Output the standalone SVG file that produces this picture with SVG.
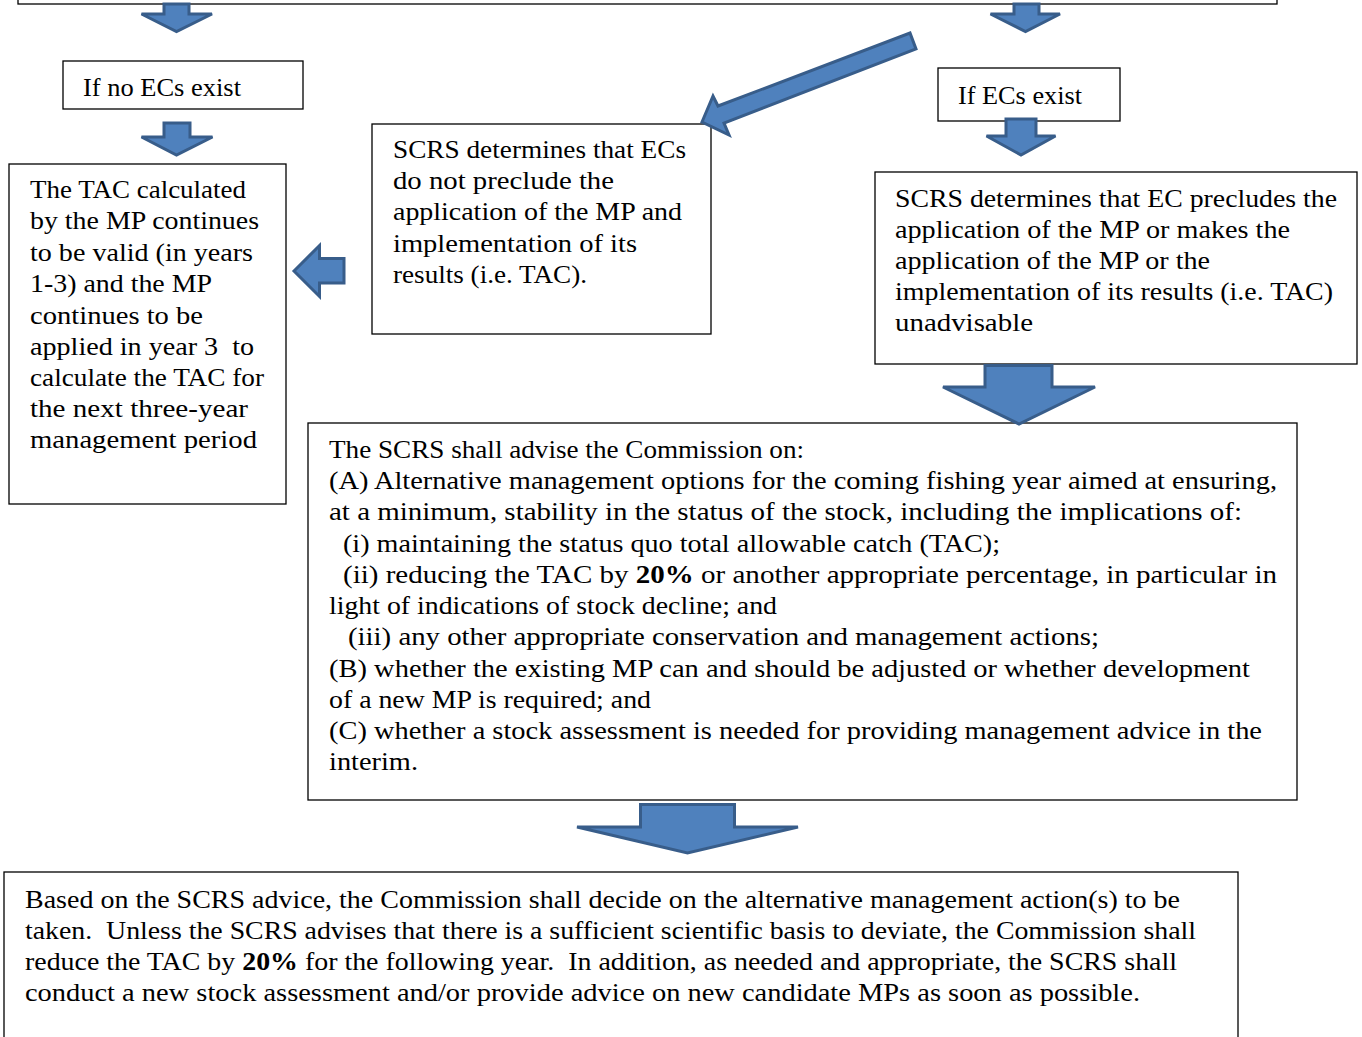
<svg xmlns="http://www.w3.org/2000/svg" width="1362" height="1037" viewBox="0 0 1362 1037">
<style>
.box{fill:#fff;stroke:#000;stroke-width:1.3}
.arr{fill:#4F81BD;stroke:#385D8A;stroke-width:3;stroke-linejoin:miter}
text{font-family:"Liberation Serif","Times New Roman",serif;font-size:25px;fill:#000}
.b{font-weight:bold}
</style>
<rect width="1362" height="1037" fill="#fff"/>
<g id="node-top"><rect class="box" x="18" y="-50" width="1259" height="54"/></g>
<g id="node-no-ecs"><rect class="box" x="63" y="61" width="240" height="48"/>
<text x="83" y="96" textLength="158" lengthAdjust="spacingAndGlyphs">If no ECs exist</text></g>
<g id="node-ecs-exist"><rect class="box" x="938" y="68" width="182" height="53"/>
<text x="958" y="104" textLength="124" lengthAdjust="spacingAndGlyphs">If ECs exist</text></g>
<g id="node-tac-valid"><rect class="box" x="9" y="164" width="277" height="340"/>
<text x="30" y="198" textLength="216" lengthAdjust="spacingAndGlyphs">The TAC calculated</text>
<text x="30" y="229" textLength="229" lengthAdjust="spacingAndGlyphs">by the MP continues</text>
<text x="30" y="261" textLength="223" lengthAdjust="spacingAndGlyphs">to be valid (in years</text>
<text x="30" y="292" textLength="182" lengthAdjust="spacingAndGlyphs">1-3) and the MP</text>
<text x="30" y="324" textLength="173" lengthAdjust="spacingAndGlyphs">continues to be</text>
<text x="30" y="355" textLength="224" lengthAdjust="spacingAndGlyphs" xml:space="preserve">applied in year 3  to</text>
<text x="30" y="386" textLength="234" lengthAdjust="spacingAndGlyphs">calculate the TAC for</text>
<text x="30" y="417" textLength="218" lengthAdjust="spacingAndGlyphs">the next three-year</text>
<text x="30" y="448" textLength="227" lengthAdjust="spacingAndGlyphs">management period</text></g>
<g id="node-not-preclude"><rect class="box" x="372" y="124" width="339" height="210"/>
<text x="393" y="158" textLength="293" lengthAdjust="spacingAndGlyphs">SCRS determines that ECs</text>
<text x="393" y="189" textLength="221" lengthAdjust="spacingAndGlyphs">do not preclude the</text>
<text x="393" y="220" textLength="289" lengthAdjust="spacingAndGlyphs">application of the MP and</text>
<text x="393" y="252" textLength="244" lengthAdjust="spacingAndGlyphs">implementation of its</text>
<text x="393" y="283" textLength="194" lengthAdjust="spacingAndGlyphs">results (i.e. TAC).</text></g>
<g id="node-precludes"><rect class="box" x="875" y="172" width="482" height="192"/>
<text x="895" y="207" textLength="442" lengthAdjust="spacingAndGlyphs">SCRS determines that EC precludes the</text>
<text x="895" y="238" textLength="395" lengthAdjust="spacingAndGlyphs">application of the MP or makes the</text>
<text x="895" y="269" textLength="315" lengthAdjust="spacingAndGlyphs">application of the MP or the</text>
<text x="895" y="300" textLength="438" lengthAdjust="spacingAndGlyphs">implementation of its results (i.e. TAC)</text>
<text x="895" y="331" textLength="138" lengthAdjust="spacingAndGlyphs">unadvisable</text></g>
<g id="node-scrs-advise"><rect class="box" x="308" y="423" width="989" height="377"/>
<text x="329" y="458" textLength="475" lengthAdjust="spacingAndGlyphs">The SCRS shall advise the Commission on:</text>
<text x="329" y="489" textLength="948" lengthAdjust="spacingAndGlyphs">(A) Alternative management options for the coming fishing year aimed at ensuring,</text>
<text x="329" y="520" textLength="913" lengthAdjust="spacingAndGlyphs">at a minimum, stability in the status of the stock, including the implications of:</text>
<text x="343" y="552" textLength="657" lengthAdjust="spacingAndGlyphs">(i) maintaining the status quo total allowable catch (TAC);</text>
<text x="343" y="583" textLength="934" lengthAdjust="spacingAndGlyphs">(ii) reducing the TAC by <tspan class="b">20%</tspan> or another appropriate percentage, in particular in</text>
<text x="329" y="614" textLength="448" lengthAdjust="spacingAndGlyphs">light of indications of stock decline; and</text>
<text x="348" y="645" textLength="751" lengthAdjust="spacingAndGlyphs">(iii) any other appropriate conservation and management actions;</text>
<text x="329" y="677" textLength="921" lengthAdjust="spacingAndGlyphs">(B) whether the existing MP can and should be adjusted or whether development</text>
<text x="329" y="708" textLength="322" lengthAdjust="spacingAndGlyphs">of a new MP is required; and</text>
<text x="329" y="739" textLength="933" lengthAdjust="spacingAndGlyphs">(C) whether a stock assessment is needed for providing management advice in the</text>
<text x="329" y="770" textLength="89" lengthAdjust="spacingAndGlyphs">interim.</text></g>
<g id="node-commission"><rect class="box" x="4" y="872" width="1234" height="200"/>
<text x="25" y="907.5" textLength="1155" lengthAdjust="spacingAndGlyphs">Based on the SCRS advice, the Commission shall decide on the alternative management action(s) to be</text>
<text x="25" y="938.5" textLength="1171" lengthAdjust="spacingAndGlyphs" xml:space="preserve">taken.  Unless the SCRS advises that there is a sufficient scientific basis to deviate, the Commission shall</text>
<text x="25" y="969.5" textLength="1152" lengthAdjust="spacingAndGlyphs" xml:space="preserve">reduce the TAC by <tspan class="b">20%</tspan> for the following year.  In addition, as needed and appropriate, the SCRS shall</text>
<text x="25" y="1000.5" textLength="1115" lengthAdjust="spacingAndGlyphs">conduct a new stock assessment and/or provide advice on new candidate MPs as soon as possible.</text></g>
<g id="connectors">
<polygon class="arr" points="164,4 189,4 189,14 212,14 176.5,31.5 141.5,14 164,14"/>
<polygon class="arr" points="164,123 190,123 190,137 212.5,137 176.5,155 141.5,137 164,137"/>
<polygon class="arr" points="1014,4 1039,4 1039,14 1060,14 1025.5,31.5 990.5,14 1014,14"/>
<polygon class="arr" points="1006,119 1036,119 1036,136 1055.5,136 1021,155 986.5,136 1006,136"/>
<polygon class="arr" points="985,365.5 1052,365.5 1052,387 1095,387 1019,424 943,387 985,387"/>
<polygon class="arr" points="640.5,804.5 734.5,804.5 734.5,827 798,827 687.5,853 577,827 640.5,827"/>
<polygon class="arr" points="294,271 319.5,245.5 319.5,258.5 344,258.5 344,283 319.5,283 319.5,296.5"/>
<polygon class="arr" points="702,122 713,96 718,106 910,33 916,49 724,123 729,135"/>
</g>
</svg>
